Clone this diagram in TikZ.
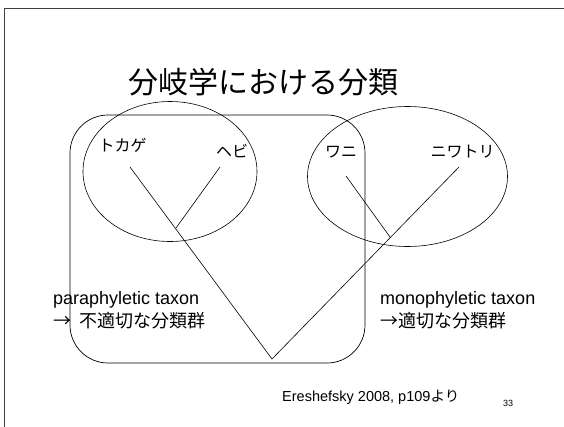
\documentclass[tikz,border=0pt]{standalone}
\usepackage{fontspec}
\setmainfont{Liberation Sans}
\newfontfamily\jp{Noto Sans CJK JP}
\begin{document}
\begin{tikzpicture}[x=1pt,y=-1pt,
  ln/.style={line width=0.7pt,black},
  thin/.style={line width=0.6pt,black},
  lbl/.style={inner sep=0pt,font=\fontsize{16}{18}\selectfont\jp},
  side/.style={inner sep=0pt,anchor=west,align=left,font=\fontsize{18}{23}\selectfont}]
\useasboundingbox (0,0) rectangle (564,426);
\fill[white] (0,0) rectangle (564,426);
\draw[line width=1.2pt,black!75] (4.5,430) -- (4.5,8.5) -- (570,8.5);
% title
\node[inner sep=0pt,font=\fontsize{30}{34}\selectfont\jp] (title) at (263,82) {分岐学における分類};
% rounded rectangle
\draw[ln,rounded corners=38pt] (70,115) rectangle (365,363);
% ellipses
\draw[thin] (170,171.5) ellipse [x radius=87, y radius=70];
\draw[thin] (407.5,176.5) ellipse [x radius=100, y radius=70];
% tree coordinates
\coordinate (root) at (272,359);
\coordinate (tk) at (130,167);
\coordinate (hb) at (220,167);
\coordinate (jl) at (176,228);
\coordinate (wn) at (346,176);
\coordinate (nw) at (459,167);
\coordinate (jr) at (390,237);
\draw[thin] (tk) -- (root) -- (nw);
\draw[thin] (hb) -- (jl);
\draw[thin] (wn) -- (jr);
% labels
\node[lbl] (ltk) at (122.5,145) {トカゲ};
\node[lbl] (lhb) at (232,151) {ヘビ};
\node[lbl] (lwn) at (341,152) {ワニ};
\node[lbl] (lnw) at (462.5,152) {ニワトリ};
% side texts
\node[side] (para) at (53,310) {paraphyletic taxon\\{\jp →}\hspace{8pt}{\jp 不適切な分類群}};
\node[side] (mono) at (380,310) {monophyletic taxon\\{\jp →適切な分類群}};
\node[inner sep=0pt,anchor=west,font=\fontsize{14.5}{16}\selectfont] (ref) at (282,397) {Ereshefsky 2008, p109{\jp より}};
\node[inner sep=0pt,font=\fontsize{9}{10}\selectfont] (pg) at (508,403) {33};
\end{tikzpicture}
\end{document}
